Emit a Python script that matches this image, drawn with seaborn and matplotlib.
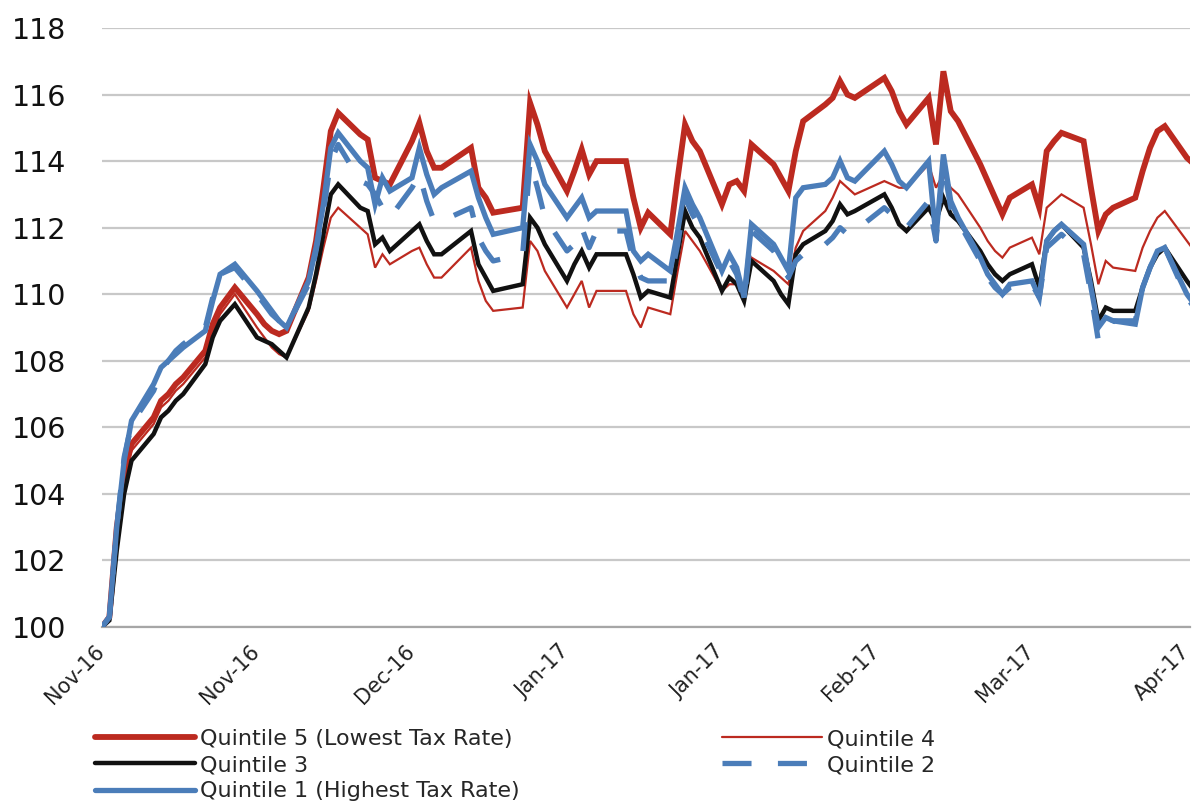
import numpy as np
import pandas as pd
import matplotlib
matplotlib.use("Agg")
import matplotlib.pyplot as plt
import matplotlib.dates as mdates
import matplotlib.transforms as mtransforms
from matplotlib.lines import Line2D
import seaborn as sns

# ---------------- data ----------------
holidays = ["2016-11-24", "2016-12-26", "2017-01-02", "2017-01-16", "2017-02-20"]
dates = pd.bdate_range("2016-11-07", "2017-04-04", freq="C", holidays=holidays)

q5 = [100.0, 100.3, 103.0, 104.6, 105.5, 106.3, 106.8, 107.0, 107.3, 107.5, 108.3, 109.1, 109.6, 110.2, 109.4, 109.1, 108.9,
      108.8, 108.9, 110.5, 111.6, 113.2, 114.9, 115.45, 114.8, 114.65, 113.5, 113.4, 113.3, 114.6, 115.15, 114.3, 113.8, 113.8, 114.4, 113.2, 112.9, 112.45,
      112.6, 115.75, 115.1, 114.3, 113.1, 113.7, 114.35, 113.6, 114.0, 114.0, 112.9, 112.0, 112.45, 111.8, 113.5, 115.1, 114.6, 114.3, 112.7, 113.3,
      113.4, 113.1, 114.5, 113.9, 113.5, 113.1, 114.3, 115.2, 115.7, 115.9, 116.4, 116.0, 115.9, 116.5, 116.1, 115.5, 115.1, 115.9, 114.5,
      116.7, 115.5, 115.2, 113.9, 113.4, 112.9, 112.4, 112.9, 113.3, 112.6, 114.3, 114.6, 114.85, 114.6, 113.2, 111.9, 112.4, 112.6, 112.9, 113.7, 114.4, 114.9, 115.05,
      114.1, 113.9]

q4 = [100.0, 100.3, 102.8, 104.5, 105.3, 106.1, 106.6, 106.8, 107.1, 107.3, 108.1, 108.9, 109.4, 110.0, 109.0, 108.7, 108.4,
      108.2, 108.1, 109.5, 110.4, 111.4, 112.3, 112.6, 112.0, 111.8, 110.8, 111.2, 110.9, 111.3, 111.4, 110.9, 110.5, 110.5, 111.4, 110.4, 109.8, 109.5,
      109.6, 111.6, 111.3, 110.7, 109.6, 110.0, 110.4, 109.6, 110.1, 110.1, 109.4, 109.0, 109.6, 109.4, 110.7, 111.9, 111.6, 111.3, 110.1, 110.3,
      110.3, 110.0, 111.1, 110.7, 110.5, 110.3, 111.4, 111.9, 112.5, 112.9, 113.4, 113.2, 113.0, 113.4, 113.3, 113.2, 113.2, 113.9, 113.2,
      113.6, 113.2, 113.0, 112.0, 111.6, 111.3, 111.1, 111.4, 111.7, 111.2, 112.6, 112.8, 113.0, 112.6, 111.5, 110.3, 111.0, 110.8, 110.7, 111.4, 111.9, 112.3, 112.5,
      111.6, 111.3]

q3 = [100.0, 100.2, 102.3, 104.0, 105.0, 105.8, 106.3, 106.5, 106.8, 107.0, 107.9, 108.7, 109.2, 109.7, 108.7, 108.6, 108.5,
      108.3, 108.1, 109.6, 110.6, 111.8, 113.0, 113.3, 112.6, 112.5, 111.5, 111.7, 111.3, 111.9, 112.1, 111.6, 111.2, 111.2, 111.9, 110.9, 110.5, 110.1,
      110.3, 112.3, 112.0, 111.5, 110.4, 110.9, 111.3, 110.8, 111.2, 111.2, 110.6, 109.9, 110.1, 109.9, 111.2, 112.5, 112.0, 111.7, 110.1, 110.5,
      110.3, 109.8, 111.0, 110.4, 110.0, 109.7, 111.2, 111.5, 111.9, 112.2, 112.7, 112.4, 112.5, 113.0, 112.6, 112.1, 111.9, 112.6, 112.2,
      112.9, 112.4, 112.2, 111.3, 110.9, 110.6, 110.4, 110.6, 110.9, 110.2, 111.6, 111.9, 112.1, 111.4, 110.4, 109.2, 109.6, 109.5, 109.5, 110.2, 110.8, 111.2, 111.4,
      110.4, 110.1]

q2 = [100.0, 100.3, 103.0, 105.1, 106.1, 107.1, 107.7, 108.0, 108.3, 108.5, 109.0, 109.9, 110.6, 110.8, 110.0, 109.7, 109.4,
      109.2, 109.0, 110.3, 111.3, 112.5, 114.0, 114.5, 113.4, 113.3, 113.0, 112.6, 112.3, 113.2, 113.6, 112.8, 112.2, 112.2, 112.6, 111.7, 111.3, 111.0,
      111.2, 114.0, 113.2, 112.3, 111.3, 111.5, 112.0, 111.4, 111.9, 111.9, 111.0, 110.5, 110.4, 110.4, 111.5, 112.9, 112.4, 112.0, 110.6, 111.0,
      110.6, 109.8, 111.9, 111.3, 110.9, 110.5, 111.0, 111.2, 111.5, 111.7, 112.0, 111.8, 111.9, 112.6, 112.4, 112.1, 112.0, 112.8, 111.6,
      113.9, 112.6, 112.2, 111.0, 110.5, 110.2, 110.0, 110.2, 110.3, 109.9, 111.4, 111.6, 111.8, 111.2, 110.0, 108.6, 108.7, 109.2, 109.2, 110.2, 110.8, 111.3, 111.4,
      109.9, 109.6]

q1 = [100.0, 100.3, 103.0, 105.0, 106.2, 107.3, 107.8, 108.0, 108.2, 108.4, 108.9, 109.8, 110.6, 110.9, 110.1, 109.8, 109.5,
      109.2, 109.0, 110.4, 111.4, 112.7, 114.4, 114.85, 114.0, 113.8, 112.7, 113.5, 113.1, 113.5, 114.4, 113.6, 113.0, 113.2, 113.7, 112.9, 112.3, 111.8,
      112.0, 114.5, 114.0, 113.3, 112.3, 112.6, 112.9, 112.3, 112.5, 112.5, 111.3, 111.0, 111.2, 110.7, 111.9, 113.2, 112.7, 112.3, 110.7, 111.2,
      110.8, 109.9, 112.1, 111.5, 111.1, 110.7, 112.9, 113.2, 113.3, 113.5, 114.0, 113.5, 113.4, 114.3, 113.9, 113.4, 113.2, 114.0, 111.7,
      114.2, 112.8, 112.3, 111.1, 110.6, 110.3, 110.0, 110.3, 110.4, 109.9, 111.6, 111.9, 112.1, 111.5, 110.2, 109.0, 109.3, 109.2, 109.1, 110.2, 110.8, 111.3, 111.4,
      110.0, 109.7]

series_names = ["Quintile 5 (Lowest Tax Rate)", "Quintile 4", "Quintile 3",
                "Quintile 2", "Quintile 1 (Highest Tax Rate)"]
series_values = [q5, q4, q3, q2, q1]

yticks = [100, 102, 104, 106, 108, 110, 112, 114, 116, 118]
xtick_dates = pd.date_range("2016-11-07", periods=8, freq="21D")

# ---------------- styles ----------------
RED = "#BC2A20"
BLUE = "#4B7DB9"
styles = {
    "Quintile 5 (Lowest Tax Rate)": dict(color=RED, lw=4.2, ls="-"),
    "Quintile 4": dict(color=RED, lw=1.6, ls="-"),
    "Quintile 3": dict(color="#111111", lw=3.2, ls="-"),
    "Quintile 2": dict(color=BLUE, lw=3.8, ls=(0, (5.5, 5))),
    "Quintile 1 (Highest Tax Rate)": dict(color=BLUE, lw=3.8, ls="-"),
}

frames = []
for name, vals in zip(series_names, series_values):
    frames.append(pd.DataFrame({"date": dates, "value": vals, "series": name}))
df = pd.concat(frames, ignore_index=True)

sns.set_theme(style="white")
plt.rcParams["font.family"] = ["DejaVu Sans"]

W, H = 1194, 809
fig = plt.figure(figsize=(W / 100, H / 100), dpi=100)
left, right, top, bottom = 102, 1190, 28, 627
ax = fig.add_axes([left / W, 1 - bottom / H, (right - left) / W, (bottom - top) / H])

for name in series_names:
    st = styles[name]
    sns.lineplot(data=df[df["series"] == name], x="date", y="value", ax=ax,
                 color=st["color"], linewidth=st["lw"], linestyle=st["ls"],
                 legend=False, zorder=3, solid_joinstyle="miter")

ax.set_ylim(100, 118)
ax.set_yticks(yticks)
ax.set_xlim(pd.Timestamp("2016-11-07"), pd.Timestamp("2017-04-03") + pd.Timedelta(hours=10))
ax.set_xticks(xtick_dates)
ax.xaxis.set_major_formatter(mdates.DateFormatter("%b-%y"))
ax.set_xlabel("")
ax.set_ylabel("")

ax.yaxis.grid(True, color="#C8C8C8", linewidth=1.6, zorder=0)
ax.xaxis.grid(False)
for s in ["left", "right", "top"]:
    ax.spines[s].set_visible(False)
ax.spines["bottom"].set_color("#A6A6A6")
ax.spines["bottom"].set_linewidth(1.6)
ax.spines["bottom"].set_zorder(1)

ax.tick_params(axis="y", length=0, labelsize=20.5, pad=26, labelcolor="#111111")
ax.tick_params(axis="x", length=6, width=1.4, color="#A6A6A6", labelsize=15, pad=4,
               labelcolor="#222222", direction="out")
shift = mtransforms.ScaledTranslation(-8 / 100, 0, fig.dpi_scale_trans)
for lab in ax.get_xticklabels():
    lab.set_rotation(45)
    lab.set_ha("right")
    lab.set_va("top")
    lab.set_rotation_mode("anchor")
    lab.set_transform(lab.get_transform() + shift)

def handle(name):
    st = styles[name]
    return Line2D([0], [0], color=st["color"], lw=st["lw"], ls=st["ls"])

col1 = ["Quintile 5 (Lowest Tax Rate)", "Quintile 3", "Quintile 1 (Highest Tax Rate)"]
col2 = ["Quintile 4", "Quintile 2"]
leg_kw = dict(frameon=False, fontsize=16, handlelength=4.5, handletextpad=0.22,
              labelspacing=0.28, borderpad=0, borderaxespad=0, loc="upper left")
fig.legend([handle(n) for n in col1], col1, bbox_to_anchor=(95 / W, 1 - 729 / H), **leg_kw)
fig.legend([handle(n) for n in col2], col2, bbox_to_anchor=(722 / W, 1 - 729 / H), **leg_kw)

fig.savefig("out.png", dpi=100, facecolor="white")
